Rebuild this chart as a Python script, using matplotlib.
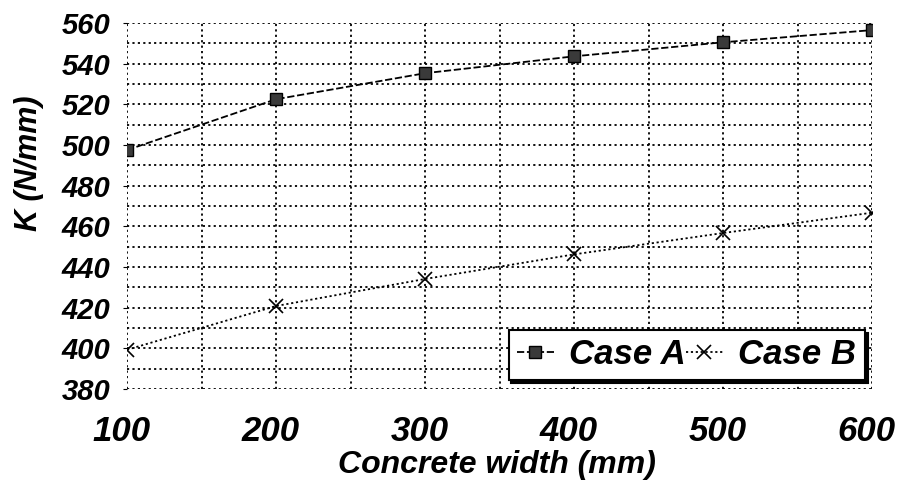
import matplotlib.pyplot as plt
from matplotlib.ticker import MultipleLocator
from matplotlib.transforms import ScaledTranslation

# concrete width (mm) and stiffness K (N/mm)
width = [100, 200, 300, 400, 500, 600]
k_case_a = [497.5, 522.5, 535.3, 543.6, 550.5, 556.5]
k_case_b = [399.3, 420.8, 434.1, 446.2, 456.7, 466.7]

plt.rcParams['font.family'] = ['Liberation Sans', 'DejaVu Sans']
plt.rcParams['font.weight'] = 'bold'
plt.rcParams['font.style'] = 'italic'
plt.rcParams['axes.labelweight'] = 'bold'

fig = plt.figure(figsize=(8.99, 4.88), dpi=100)
ax = fig.add_axes([0.1413, 0.2029, 0.8287, 0.75])

ax.plot(width, k_case_a, color='black', lw=1.3, dashes=(4, 1.5),
        marker='s', ms=9, mfc='#3a3a3a', mec='black', mew=1.0, label='Case A')
ax.plot(width, k_case_b, color='black', lw=1.3, dashes=(1.2, 1.5),
        marker='x', ms=10, mew=1.2, label='Case B')

ax.set_xlim(100, 600)
ax.set_ylim(380, 560)
ax.xaxis.set_major_locator(MultipleLocator(100))
ax.xaxis.set_minor_locator(MultipleLocator(50))
ax.yaxis.set_major_locator(MultipleLocator(20))
ax.yaxis.set_minor_locator(MultipleLocator(10))

# dotted grid over the whole plot area, no solid frame
ax.grid(True, which='both', color='black', linestyle=(0, (1.2, 1.8)), lw=1.3)
ax.set_axisbelow(True)
for s in ax.spines.values():
    s.set_visible(False)

ax.tick_params(axis='x', which='both', length=0, pad=19, labelsize=25)
ax.tick_params(axis='y', which='major', length=3, pad=9, labelsize=21)
ax.tick_params(axis='y', which='minor', length=0)

# italic numbers sit a little left of their ticks
shift = ScaledTranslation(-4 / 72, 0, fig.dpi_scale_trans)
for lbl in ax.get_xticklabels():
    lbl.set_transform(lbl.get_transform() + shift)

ax.set_xlabel('Concrete width (mm)', fontsize=23, fontweight='bold')
ax.xaxis.set_label_coords(0.497, -0.168)
ax.set_ylabel('K (N/mm)', fontsize=22, fontweight='bold')
ax.yaxis.set_label_coords(-0.112, 0.617)

leg = ax.legend(loc='lower right', bbox_to_anchor=(0.962, 0.221),
                bbox_transform=fig.transFigure, ncol=2, fontsize=25,
                frameon=True, fancybox=False,
                shadow={'color': 'black', 'alpha': 1}, edgecolor='black',
                handlelength=1.05, handletextpad=0.45, columnspacing=0.0,
                borderpad=0.25, borderaxespad=0)
leg.get_frame().set_linewidth(1.5)
leg.get_frame().set_alpha(1)

fig.savefig('out.png', dpi=100)
